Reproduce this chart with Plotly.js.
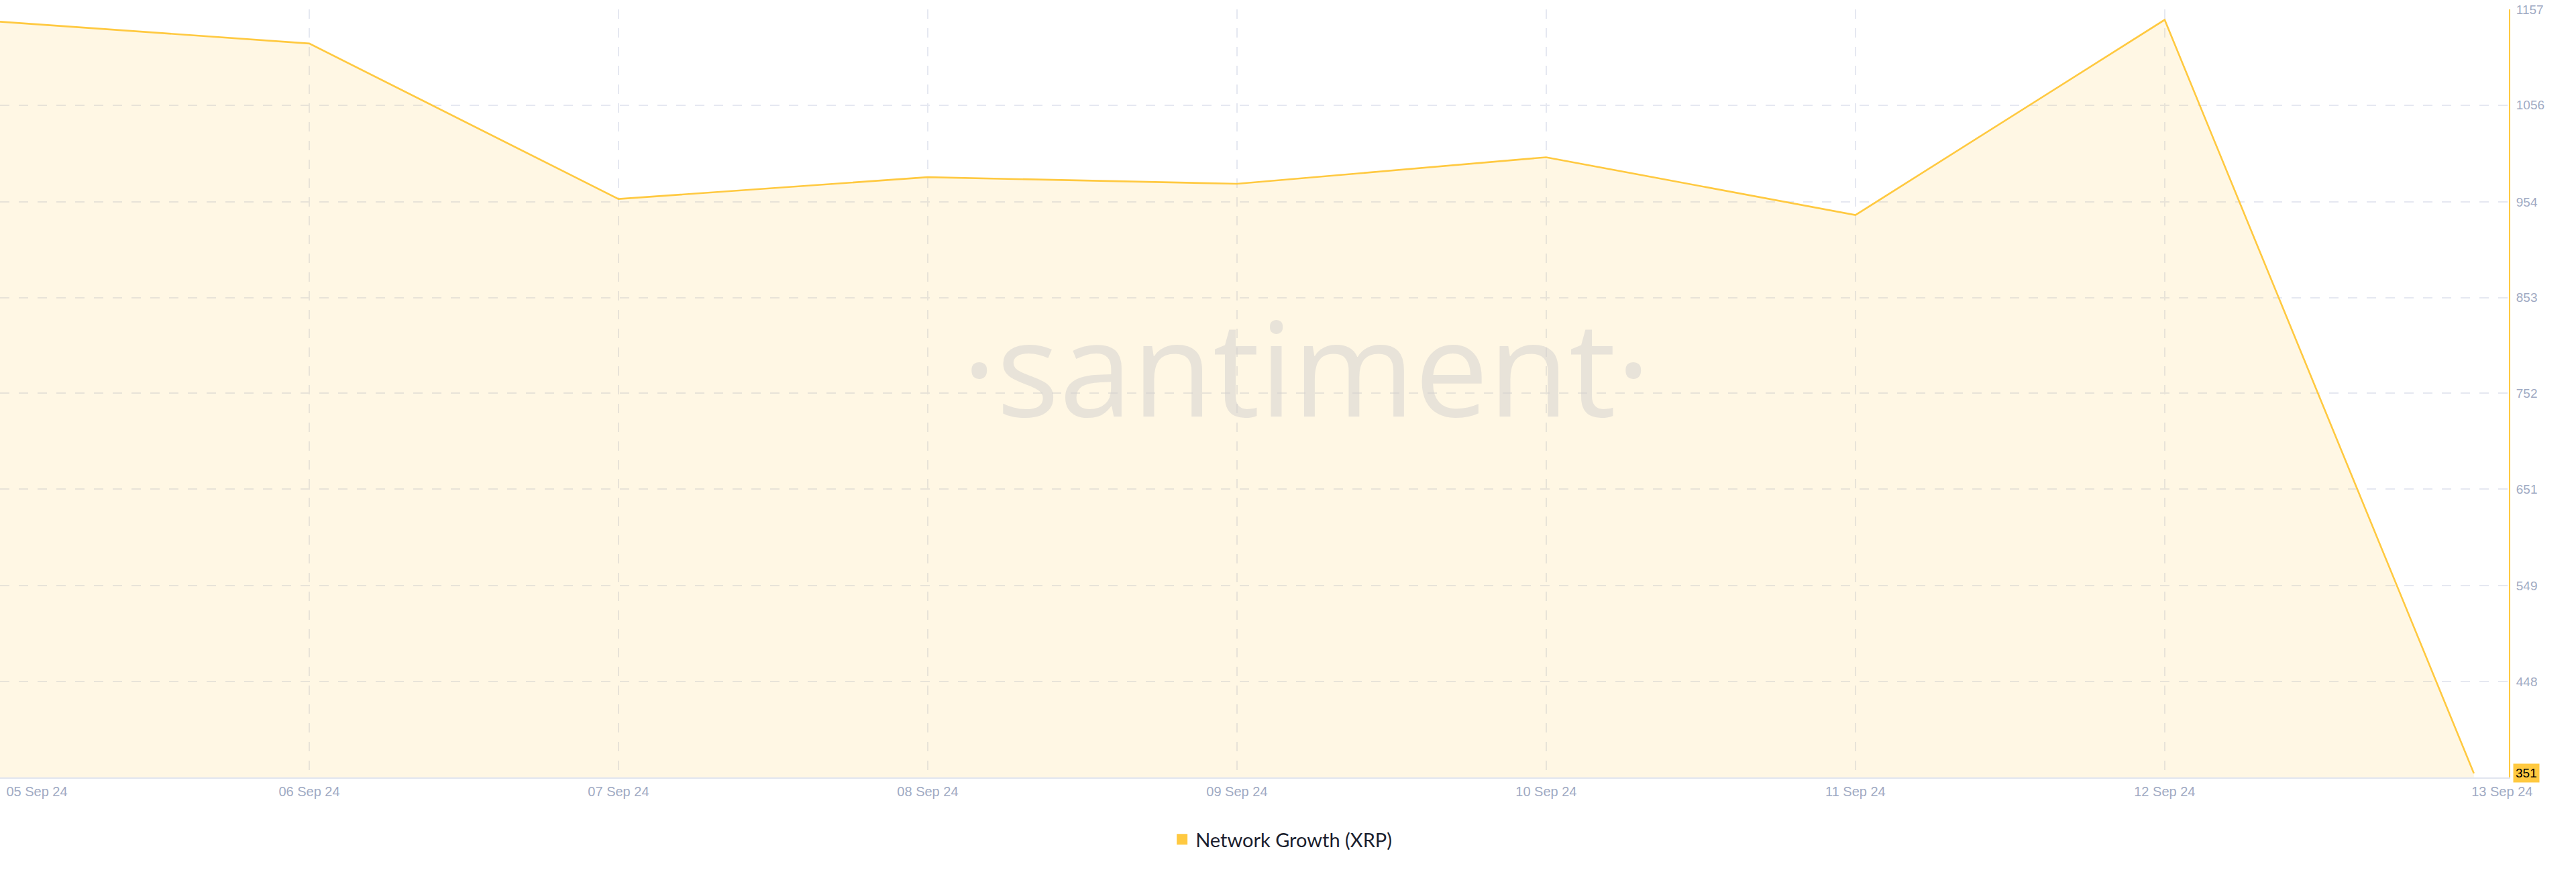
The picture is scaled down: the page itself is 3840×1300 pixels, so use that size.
<!DOCTYPE html>
<html>
<head>
<meta charset="utf-8">
<script src="https://cdn.plot.ly/plotly-3.0.1.min.js"></script>
<style>
  html, body { margin: 0; padding: 0; background: #ffffff; }
  #chart { width: 3840px; height: 1300px; }
</style>
</head>
<body>
<div id="chart"></div>
<script>
// ---- Data ----
const dates = ['2024-09-05', '2024-09-06', '2024-09-07', '2024-09-08', '2024-09-09',
               '2024-09-10', '2024-09-11', '2024-09-12', '2024-09-13'];
const networkGrowth = [1144, 1121, 957, 980, 973, 1001, 940, 1146, 351];
const seriesName = 'Network Growth (XRP)';

const xTickVals = ['2024-09-06', '2024-09-07', '2024-09-08', '2024-09-09', '2024-09-10', '2024-09-11', '2024-09-12'];
const xTickText = ['06 Sep 24', '07 Sep 24', '08 Sep 24', '09 Sep 24', '10 Sep 24', '11 Sep 24', '12 Sep 24'];
const xFirstTickVal = ['2024-09-05'];
const xFirstTickText = ['05 Sep 24'];
const xLastTickVal = ['2024-09-13'];
const xLastTickText = ['13 Sep 24'];

const yTickVals = [1157, 1056, 954, 853, 752, 651, 549, 448];
const yTickText = ['1157', '1056', '954', '853', '752', '651', '549', '448'];

// ---- Styling ----
const lineColor = '#ffc940';
const fillColor = 'rgba(255,200,64,0.14)';
const gridColor = '#e5e8f1';
const tickColor = '#a0aac3';
const xRange = ['2024-09-05 00:00', '2024-09-13 02:43'];
const yRange = [346.7, 1157];

const tickFont = { family: 'Liberation Sans, Arial, sans-serif', size: 20, color: tickColor };

const mainTrace = {
  type: 'scatter',
  mode: 'lines',
  x: dates,
  y: networkGrowth,
  line: { color: lineColor, width: 2.6 },
  fill: 'tozeroy',
  fillcolor: fillColor,
  showlegend: false,
  hoverinfo: 'x+y'
};

const legendTrace = {
  type: 'scatter',
  mode: 'markers',
  x: [null],
  y: [null],
  name: seriesName,
  marker: { symbol: 'square', color: lineColor, size: 18 },
  showlegend: true
};

const baseX = {
  type: 'date',
  range: xRange,
  showgrid: true,
  gridcolor: gridColor,
  gridwidth: 2,
  griddash: '14px,14px',
  zeroline: false,
  ticks: '',
  tickfont: tickFont,
  fixedrange: true
};

const layout = {
  width: 3840,
  height: 1300,
  margin: { l: 0, r: 100, t: 14, b: 140.5 },
  paper_bgcolor: '#ffffff',
  plot_bgcolor: '#ffffff',
  font: { family: 'Liberation Sans, Arial, sans-serif', color: tickColor },
  xaxis: Object.assign({}, baseX, {
    tickmode: 'array',
    tickvals: xTickVals,
    ticktext: xTickText,
    showline: true,
    linecolor: '#e1e5ef',
    linewidth: 2,
    ticklabelstandoff: 2
  }),
  xaxis2: Object.assign({}, baseX, {
    overlaying: 'x',
    matches: 'x',
    side: 'bottom',
    tickmode: 'array',
    tickvals: xFirstTickVal,
    ticktext: xFirstTickText,
    ticklabelshift: 55,
    ticklabelstandoff: 7,
    showline: false
  }),
  xaxis3: Object.assign({}, baseX, {
    overlaying: 'x',
    matches: 'x',
    side: 'bottom',
    tickmode: 'array',
    tickvals: xLastTickVal,
    ticktext: xLastTickText,
    ticklabelshift: 42,
    ticklabelstandoff: 7,
    showgrid: false,
    showline: false
  }),
  yaxis: {
    side: 'right',
    range: yRange,
    tickmode: 'array',
    tickvals: yTickVals,
    ticktext: yTickText,
    showgrid: true,
    gridcolor: gridColor,
    gridwidth: 2,
    griddash: '14px,14px',
    zeroline: false,
    showline: true,
    linecolor: lineColor,
    linewidth: 2,
    ticks: '',
    ticklabelstandoff: 5,
    tickfont: { family: 'Liberation Sans, Arial, sans-serif', size: 19, color: tickColor },
    fixedrange: true
  },
  showlegend: true,
  legend: {
    orientation: 'h',
    x: 0.511,
    xanchor: 'center',
    y: -0.0807,
    yanchor: 'middle',
    font: { family: 'Lato, Noto Sans, sans-serif', size: 29, color: '#1b1e2e' },
    bgcolor: 'rgba(0,0,0,0)'
  },
  annotations: [
    {
      xref: 'paper', yref: 'paper',
      x: 0.5206, y: 0.536,
      xanchor: 'center', yanchor: 'middle',
      text: '·santiment·',
      showarrow: false,
      font: { family: 'Open Sans, sans-serif', size: 196, color: 'rgba(209,208,206,0.5)' }
    },
    {
      xref: 'paper', yref: 'y',
      x: 1, y: networkGrowth[networkGrowth.length - 1],
      xanchor: 'left', yanchor: 'middle',
      xshift: 6,
      text: String(networkGrowth[networkGrowth.length - 1]),
      showarrow: false,
      bgcolor: lineColor,
      borderpad: 3,
      font: { family: 'Liberation Sans, Arial, sans-serif', size: 19, color: '#000000' }
    }
  ]
};

// empty traces to anchor the overlay axes
const axis2Trace = { type: 'scatter', x: [], y: [], xaxis: 'x2', yaxis: 'y', showlegend: false, hoverinfo: 'skip' };
const axis3Trace = { type: 'scatter', x: [], y: [], xaxis: 'x3', yaxis: 'y', showlegend: false, hoverinfo: 'skip' };

Plotly.newPlot('chart', [axis2Trace, axis3Trace, mainTrace, legendTrace], layout, { displayModeBar: false, staticPlot: true });
</script>
</body>
</html>
